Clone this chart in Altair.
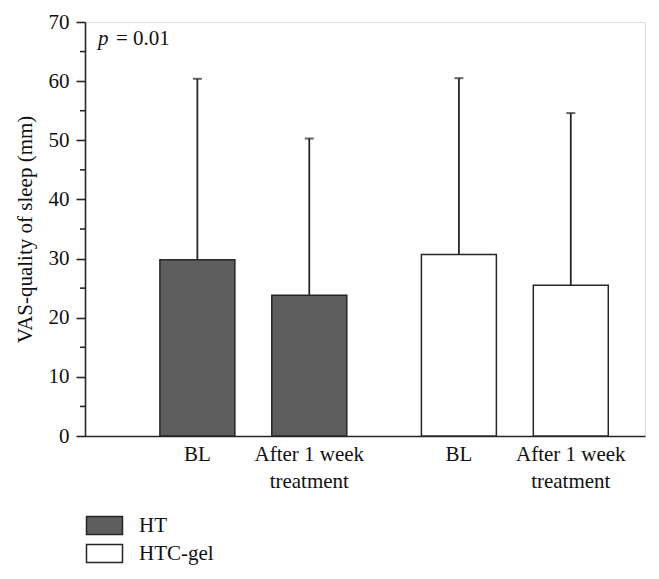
import altair as alt
import pandas as pd

groups = ["HT", "HT", "HTC-gel", "HTC-gel"]
times = ["BL", "After 1 week\ntreatment", "BL", "After 1 week\ntreatment"]
means = [29.8, 23.8, 30.7, 25.5]
uppers = [60.4, 50.3, 60.5, 54.6]
time_order = ["BL", "After 1 week\ntreatment"]
group_order = ["HT", "HTC-gel"]
fills = ["#5e5e5e", "#ffffff"]
major_ticks = list(range(0, 71, 10))
minor_ticks = list(range(5, 70, 10))

df = pd.DataFrame({"group": groups, "time": times, "mean": means, "upper": uppers})
ann = pd.DataFrame({"p": ["p"], "rest": ["= 0.01"], "yv": [66.1]})
minor_df = pd.DataFrame({"v": minor_ticks})

FONT = "'Liberation Serif', 'Times New Roman', serif"
FS = 21
DARK = "#262626"
W, H = 560, 414

x_enc = alt.X("group:N", sort=group_order,
              scale=alt.Scale(paddingInner=0.2854, paddingOuter=0.2134, align=0.671),
              axis=alt.Axis(labels=False, ticks=False, title=None, domainColor=DARK, domainWidth=1.6))
xo_enc = alt.XOffset("time:N", sort=time_order, scale=alt.Scale(paddingInner=0.33, paddingOuter=0))
y_scale = alt.Scale(domain=[0, 70], nice=False)

base = alt.Chart(df)

bars = base.mark_bar(stroke=DARK, strokeWidth=1.5).encode(
    x=x_enc, xOffset=xo_enc,
    y=alt.Y("mean:Q", scale=y_scale,
            axis=alt.Axis(values=major_ticks, tickSize=9,
                          grid=False, domainColor=DARK, domainWidth=1.6, tickColor=DARK, tickWidth=1.6,
                          labelFont=FONT, labelFontSize=FS, labelColor="#111", labelPadding=7,
                          title="VAS-quality of sleep (mm)", titleFont=FONT, titleFontSize=FS,
                          titleFontWeight="normal", titleColor="#111", titlePadding=13)),
    fill=alt.Fill("group:N", sort=group_order,
                  scale=alt.Scale(domain=group_order, range=fills),
                  legend=alt.Legend(title=None, orient="none", legendX=0, legendY=493,
                                    symbolType="M-1,-1H3V1H-1Z", symbolSize=324,
                                    symbolStrokeColor=DARK, symbolStrokeWidth=1.5,
                                    symbolFillColor="#ffffff",
                                    labelFont=FONT, labelFontSize=FS, labelColor="#111",
                                    labelOffset=33, rowPadding=3)),
)

minor = alt.Chart(minor_df).mark_rule(color=DARK, strokeWidth=1.6).encode(
    x=alt.value(-5), x2=alt.value(0), y=alt.Y("v:Q", scale=y_scale))

err = base.mark_rule(color=DARK, strokeWidth=1.8).encode(
    x=x_enc, xOffset=xo_enc, y=alt.Y("mean:Q", scale=y_scale), y2="upper:Q")

caps = base.mark_tick(color=DARK, size=9, thickness=2).encode(
    x=x_enc, xOffset=xo_enc, y=alt.Y("upper:Q", scale=y_scale))

labels = base.mark_text(font=FONT, fontSize=FS, color="#111", baseline="alphabetic",
                        align="center", lineBreak="\n", lineHeight=27).encode(
    x=x_enc, xOffset=xo_enc, y=alt.value(H + 25), text="time:N")

p1 = alt.Chart(ann).mark_text(font=FONT, fontSize=FS, fontStyle="italic", color="#111",
                              align="left", baseline="alphabetic").encode(
    x=alt.value(13), y=alt.Y("yv:Q", scale=y_scale), text="p:N")
p2 = alt.Chart(ann).mark_text(font=FONT, fontSize=FS, color="#111",
                              align="left", baseline="alphabetic").encode(
    x=alt.value(31), y=alt.Y("yv:Q", scale=y_scale), text="rest:N")

chart = alt.layer(bars, minor, err, caps, labels, p1, p2).properties(
    width=W, height=H,
    autosize=alt.AutoSizeParams(type="none"),
    padding={"left": 77, "top": 14, "right": 6, "bottom": 136},
).configure_view(stroke=None).configure(background="white")

chart.save("out.html", embed_options={"renderer": "svg", "actions": False})
